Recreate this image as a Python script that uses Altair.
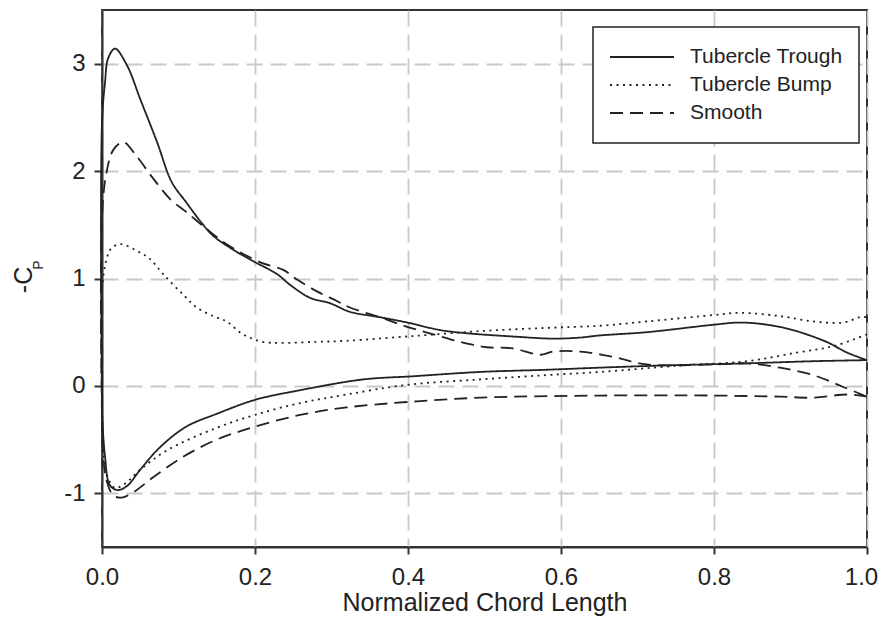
import altair as alt
import pandas as pd

series_names = ["Tubercle Trough", "Tubercle Bump", "Smooth"]

# Tubercle Trough (solid)
trough_upper_x = [0.0, 0.004, 0.008, 0.017, 0.033, 0.05, 0.072, 0.091, 0.11, 0.13, 0.145, 0.171, 0.198,
                  0.229, 0.246, 0.272, 0.298, 0.324, 0.363, 0.399, 0.442, 0.477, 0.537, 0.59, 0.625,
                  0.651, 0.712, 0.80, 0.834, 0.869, 0.903, 0.947, 0.974, 1.0]
trough_upper_y = [2.45, 2.83, 3.05, 3.14, 2.98, 2.67, 2.27, 1.90, 1.71, 1.52, 1.40, 1.27, 1.16,
                  1.04, 0.94, 0.82, 0.77, 0.69, 0.64, 0.59, 0.52, 0.49, 0.46, 0.44, 0.45,
                  0.47, 0.50, 0.57, 0.59, 0.57, 0.52, 0.41, 0.31, 0.24]
trough_lower_x = [0.0, 0.001, 0.004, 0.01, 0.02, 0.033, 0.05, 0.076, 0.11, 0.15, 0.2, 0.259, 0.341,
                  0.407, 0.494, 0.58, 0.651, 0.733, 0.843, 0.93, 1.0]
trough_lower_y = [-0.1, -0.38, -0.66, -0.92, -0.97, -0.93, -0.78, -0.57, -0.38, -0.26, -0.13, -0.04, 0.06,
                  0.09, 0.13, 0.15, 0.17, 0.19, 0.21, 0.23, 0.24]

# Tubercle Bump (dotted)
bump_upper_x = [0.0, 0.006, 0.012, 0.024, 0.05, 0.063, 0.08, 0.106, 0.124, 0.145, 0.163, 0.18, 0.193,
                0.21, 0.233, 0.28, 0.32, 0.399, 0.494, 0.58, 0.651, 0.712, 0.80, 0.834, 0.886, 0.93,
                0.969, 0.991, 1.0]
bump_upper_y = [0.9, 1.18, 1.28, 1.32, 1.24, 1.18, 1.04, 0.85, 0.73, 0.65, 0.60, 0.50, 0.45,
                0.41, 0.40, 0.41, 0.42, 0.46, 0.51, 0.54, 0.56, 0.60, 0.66, 0.68, 0.65, 0.60,
                0.59, 0.64, 0.64]
bump_lower_x = [0.0, 0.001, 0.006, 0.017, 0.03, 0.05, 0.085, 0.15, 0.2, 0.259, 0.32, 0.399, 0.494,
                0.58, 0.651, 0.756, 0.843, 0.908, 0.956, 1.0]
bump_lower_y = [-0.1, -0.44, -0.82, -0.95, -0.91, -0.78, -0.60, -0.39, -0.27, -0.16, -0.08, 0.01, 0.06,
                0.10, 0.13, 0.19, 0.23, 0.31, 0.37, 0.48]

# Smooth (dashed)
smooth_upper_x = [0.0, 0.006, 0.015, 0.028, 0.045, 0.067, 0.089, 0.11, 0.137, 0.163, 0.207, 0.237, 0.255,
                  0.281, 0.307, 0.324, 0.363, 0.399, 0.433, 0.468, 0.503, 0.537, 0.573, 0.59, 0.625,
                  0.668, 0.712, 0.80, 0.843, 0.886, 0.93, 0.969, 1.0]
smooth_upper_y = [1.58, 1.99, 2.2, 2.27, 2.14, 1.93, 1.74, 1.62, 1.46, 1.32, 1.15, 1.08, 0.99,
                  0.88, 0.79, 0.73, 0.64, 0.55, 0.48, 0.41, 0.36, 0.35, 0.29, 0.32, 0.32,
                  0.27, 0.20, 0.20, 0.21, 0.17, 0.10, -0.01, -0.10]
smooth_lower_x = [0.0, 0.001, 0.006, 0.015, 0.026, 0.041, 0.067, 0.106, 0.15, 0.2, 0.259, 0.32, 0.399,
                  0.494, 0.651, 0.8, 0.886, 0.93, 0.974, 1.0]
smooth_lower_y = [-0.3, -0.60, -0.88, -1.02, -1.04, -0.99, -0.85, -0.66, -0.50, -0.38, -0.27, -0.20, -0.15,
                  -0.11, -0.09, -0.09, -0.10, -0.11, -0.08, -0.10]

x_ticks = [0.0, 0.2, 0.4, 0.6, 0.8, 1.0]
y_ticks = [-1, 0, 1, 2, 3]

rows = []


def add(name, lx, ly, ux, uy):
    pts = list(zip(lx[::-1], ly[::-1])) + list(zip(ux, uy))
    for i, (x, y) in enumerate(pts):
        rows.append({"series": name, "i": i, "x": x, "y": y})


add("Tubercle Trough", trough_lower_x, trough_lower_y, trough_upper_x, trough_upper_y)
add("Tubercle Bump", bump_lower_x, bump_lower_y, bump_upper_x, bump_upper_y)
add("Smooth", smooth_lower_x, smooth_lower_y, smooth_upper_x, smooth_upper_y)
df = pd.DataFrame(rows)

FONT = "Liberation Sans"

lines = alt.Chart(df).mark_line(
    interpolate="catmull-rom", color="#222222", strokeWidth=1.8
).encode(
    x=alt.X("x:Q",
            scale=alt.Scale(domain=[0, 1], nice=False),
            axis=alt.Axis(values=x_ticks, format=".1f", title="Normalized Chord Length",
                          titleY=63, titleBaseline="alphabetic", labelFlush=False,
                          labelOffset={"condition": {"test": "datum.value == 1", "value": -6}, "value": 0},
                          tickSize=7, labelPadding=11)),
    y=alt.Y("y:Q",
            scale=alt.Scale(domain=[-1.5, 3.5], nice=False, zero=False),
            axis=alt.Axis(values=y_ticks, labelExpr="'' + datum.value", title=None,
                          labelFlush=False, tickSize=8, labelPadding=9)),
    strokeDash=alt.StrokeDash(
        "series:N",
        scale=alt.Scale(domain=series_names, range=[[1, 0], [2, 4.5], [13, 7]]),
        legend=alt.Legend(title=None, orient="none", legendX=491, legendY=17,
                          padding=16, strokeColor="#222222", fillColor="white",
                          symbolSize=4096, symbolStrokeWidth=2, symbolType="stroke",
                          labelFontSize=21, labelFont=FONT, labelColor="#222222",
                          labelOffset=15, clipHeight=28, rowPadding=0),
    ),
    order="i:Q",
)

t_c = alt.Chart(pd.DataFrame({"t": ["-C"]})).mark_text(
    angle=270, font=FONT, fontSize=25, align="center", baseline="alphabetic", color="#222222"
).encode(text="t:N", x=alt.value(-70), y=alt.value(270))

t_p = alt.Chart(pd.DataFrame({"t": ["P"]})).mark_text(
    angle=270, font=FONT, fontSize=14, align="center", baseline="alphabetic", color="#222222"
).encode(text="t:N", x=alt.value(-59), y=alt.value(255))

chart = alt.layer(lines, t_c, t_p).properties(
    width=765, height=537,
    autosize=alt.AutoSizeParams(type="none"),
    padding={"left": 94, "top": 2, "right": 12, "bottom": 75},
).configure_view(
    stroke="#333333", strokeWidth=2
).configure_axis(
    domainColor="#333333", domainWidth=2,
    tickColor="#333333", tickWidth=2,
    gridColor="#c8c8c8", gridDash=[16, 8], gridWidth=1.8,
    labelFont=FONT, labelFontSize=24, labelColor="#222222",
    titleFont=FONT, titleFontSize=25, titleColor="#222222", titleFontWeight="normal",
).configure_legend(
    strokeWidth=1.5
)

chart.save("out.html", embed_options={"renderer": "svg", "actions": False})
